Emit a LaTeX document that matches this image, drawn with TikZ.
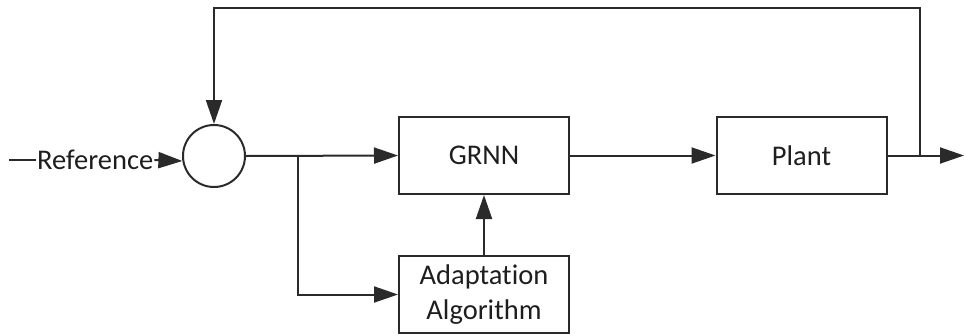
\documentclass[tikz,border=0pt]{standalone}
\usepackage{fontspec}
\setmainfont[Ligatures=NoCommon]{Carlito}
\usetikzlibrary{arrows.meta,calc}
\definecolor{ln}{HTML}{2A2A2A}
\definecolor{tx}{HTML}{1E1E1E}
\begin{document}
\begin{tikzpicture}[x=1pt,y=-1pt,
  blk/.style={draw=ln,line width=2pt,minimum width=170pt,minimum height=77pt,inner sep=0pt,
    font=\fontsize{28.5}{35}\selectfont,text=tx,align=center},
  sumnode/.style={draw=ln,line width=2pt,circle,minimum size=62pt,inner sep=0pt},
  conn/.style={draw=ln,line width=2pt},
  arr/.style={conn,-{Triangle[length=24pt,width=16pt]}}]
\useasboundingbox (0,0) rectangle (964,335);
\node[sumnode] (sum) at (214,156) {};
\node[blk] (grnn) at (484,155.5) {GRNN};
\node[blk] (adapt) at (484,294.5) {Adaptation\\Algorithm};
\node[blk] (plant) at (801.5,155.5) {Plant};
\node[anchor=west,inner sep=1pt,font=\fontsize{28.5}{30}\selectfont,text=tx] (ref) at (36,160) {Reference};
\coordinate (start) at (9,160);
\coordinate (out) at (964,155.5);
\coordinate (br) at (298,156);
\coordinate (fb) at (920,155.5);
\draw[conn] (start) -- (ref.west);
\draw[arr] (ref.east) -- (sum.189);
\draw[arr] (sum.east) -- (grnn.west);
\draw[arr] (br) |- (adapt.west);
\draw[arr] (adapt.north) -- (grnn.south);
\draw[arr] (grnn.east) -- (plant.west);
\draw[arr] (plant.east) -- (out);
\draw[arr] (fb) -- (920,8) -| (sum.north);
\end{tikzpicture}
\end{document}
